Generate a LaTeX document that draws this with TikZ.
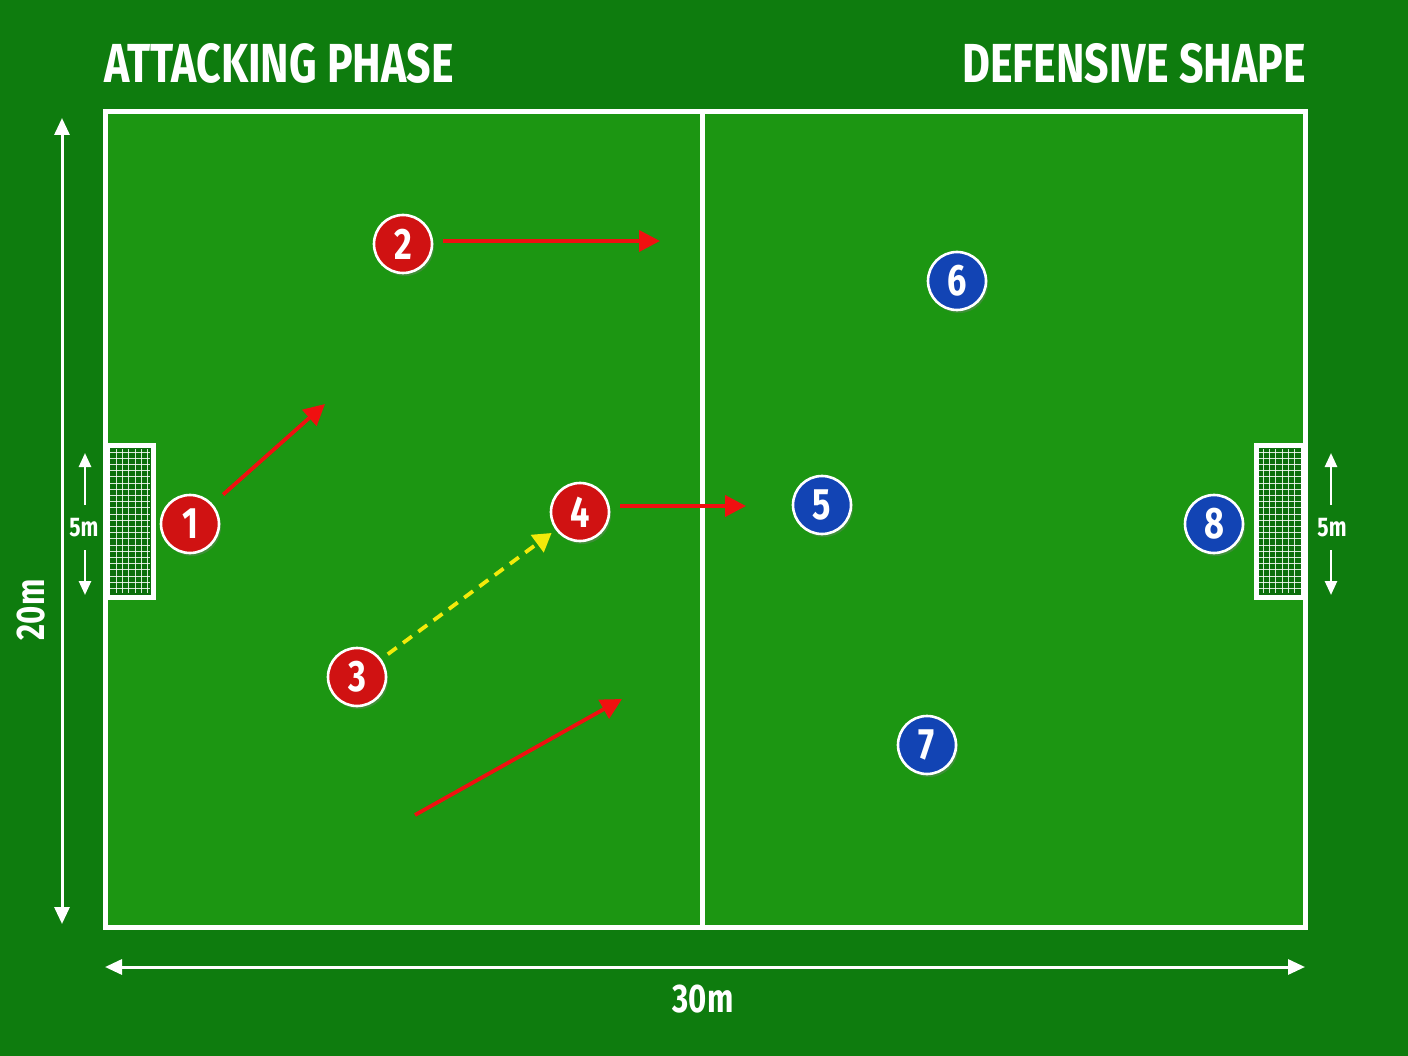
\documentclass[tikz,border=0pt]{standalone}
\usepackage{fontspec}
\newfontfamily\cond[FakeStretch=0.78]{Fira Sans}
\usetikzlibrary{arrows.meta,shadows}
\definecolor{outergreen}{HTML}{0E7C0E}
\definecolor{fieldgreen}{HTML}{1C9612}
\definecolor{netgreen}{HTML}{0C6E0C}
\definecolor{redp}{HTML}{D01212}
\definecolor{bluep}{HTML}{1244B4}
\definecolor{runred}{HTML}{F01010}
\definecolor{passyellow}{HTML}{F2EA0A}
\tikzset{
  player/.style={circle, draw=white, line width=2.6pt, minimum size=58pt, inner sep=0pt,
    text=white, font=\cond\bfseries\fontsize{44}{44}\selectfont,
    drop shadow={shadow xshift=2pt, shadow yshift=-3pt, opacity=0.35}},
  attacker/.style={player, fill=redp},
  defender/.style={player, fill=bluep},
  run/.style={draw=runred, line width=3.8pt, -{Triangle[length=21pt,width=21pt]}},
  pass/.style={draw=passyellow, line width=3.8pt, dash pattern=on 11pt off 8pt, -{Triangle[length=18pt,width=21pt]}},
  dimline/.style={draw=white, line width=3pt, {Triangle[length=17pt,width=15pt]}-{Triangle[length=17pt,width=15pt]}},
  title/.style={text=white, font=\cond\bfseries\fontsize{55}{55}\selectfont, inner sep=0pt},
  dimtext/.style={text=white, font=\cond\bfseries\fontsize{40}{40}\selectfont, inner sep=0pt},
  smalltext/.style={text=white, font=\cond\bfseries\fontsize{27}{27}\selectfont, inner sep=0pt},
  fieldline/.style={draw=white, line width=5pt},
  netline/.style={draw=white, line width=0.9pt, opacity=0.85}
}
\begin{document}
\begin{tikzpicture}[x=1pt,y=-1pt]
\useasboundingbox (0,0) rectangle (1408,1056);
\fill[outergreen] (0,0) rectangle (1408,1056);
% field
\fill[fieldgreen] (105,112) rectangle (1305,927);
\draw[fieldline] (105,112) rectangle (1305,927);
\draw[fieldline] (702,112) -- (702,927);
% left goal
\fill[netgreen] (105,445) rectangle (153,597);
\begin{scope}
\clip (108,449) rectangle (150,593);
\foreach \i in {1,...,6} \draw[netline] (110+\i*6.3,449) -- (110+\i*6.3,593);
\foreach \j in {0,...,23} \draw[netline] (108,452+\j*6.2) -- (150,452+\j*6.2);
\end{scope}
\draw[white, line width=5pt] (107,445) rectangle (153,597);
% right goal
\fill[netgreen] (1256,445) rectangle (1305,597);
\begin{scope}
\clip (1259,449) rectangle (1302,593);
\foreach \i in {1,...,6} \draw[netline] (1257+\i*6.3,449) -- (1257+\i*6.3,593);
\foreach \j in {0,...,23} \draw[netline] (1259,452+\j*6.2) -- (1302,452+\j*6.2);
\end{scope}
\draw[white, line width=5pt] (1256,445) rectangle (1303,597);
% titles
\node[title, anchor=base west] (t1) at (104,83) {ATTACKING PHASE};
\node[title, anchor=base east] (t2) at (1306,83) {DEFENSIVE SHAPE};
% dimensions
\coordinate (vt) at (62,118);
\coordinate (vb) at (62,924);
\draw[dimline] (vt) -- (vb);
\node[dimtext, rotate=90] (d20) at (31,610) {20m};
\coordinate (hl) at (105,967);
\coordinate (hr) at (1305,967);
\draw[dimline] (hl) -- (hr);
\node[dimtext] (d30) at (703,999) {30m};
% 5m markers
\node[smalltext] (g5l) at (84,528) {5m};
\coordinate (g5lt) at (85,453);
\coordinate (g5lb) at (85,595);
\draw[white, line width=2.6pt, -{Triangle[length=14pt,width=12pt]}] (85,505) -- (g5lt);
\draw[white, line width=2.6pt, -{Triangle[length=14pt,width=12pt]}] (85,550) -- (g5lb);
\node[smalltext] (g5r) at (1332,528) {5m};
\coordinate (g5rt) at (1331,453);
\coordinate (g5rb) at (1331,595);
\draw[white, line width=2.6pt, -{Triangle[length=14pt,width=12pt]}] (1331,505) -- (g5rt);
\draw[white, line width=2.6pt, -{Triangle[length=14pt,width=12pt]}] (1331,550) -- (g5rb);
% players
\node[attacker] (n1) at (190,524) {1};
\node[attacker] (n2) at (403,244) {2};
\node[attacker] (n3) at (357,677) {3};
\node[attacker] (n4) at (580,512) {4};
\node[defender] (n5) at (822,505) {5};
\node[defender] (n6) at (957,281) {6};
\node[defender] (n7) at (927,745) {7};
\node[defender] (n8) at (1214,524) {8};
% runs
\coordinate (e1) at (325,404);
\coordinate (e2) at (660,241);
\coordinate (e4) at (746,506);
\coordinate (sb) at (415,815);
\coordinate (eb) at (622,699);
\draw[run, shorten <=14pt] (n1) -- (e1);
\draw[run, shorten <=10pt] (n2.east |- e2) -- (e2);
\draw[run, shorten <=10pt] (n4.east |- e4) -- (e4);
\draw[run] (sb) -- (eb);
% pass
\draw[pass, shorten <=8pt, shorten >=5pt] (n3) -- (n4);
\end{tikzpicture}
\end{document}
